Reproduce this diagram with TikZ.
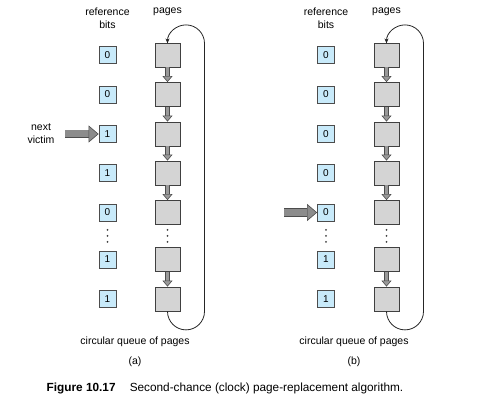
\documentclass[tikz,border=0pt]{standalone}
\usepackage{fontspec}
\setmainfont{Liberation Sans}
\usetikzlibrary{arrows.meta}
\definecolor{azulbit}{RGB}{200,234,250}
\definecolor{cinzapag}{RGB}{212,212,212}
\begin{document}
\begin{tikzpicture}[x=1pt,y=1pt,
    bit/.style={draw=black!70,fill=azulbit,line width=0.8pt,minimum size=17pt,inner sep=0pt,font=\fontsize{10}{12}\selectfont},
    pagina/.style={draw=black!75,fill=cinzapag,line width=0.8pt,minimum width=25pt,minimum height=24pt,inner sep=0pt},
    seta/.style={draw=black!70,line width=0.6pt,double=black!40,double distance=3pt,
        -{Triangle[length=6pt,width=10pt,fill=black!40,line width=0.6pt]}},
    ponteiro/.style={draw=black!70,line width=0.6pt,double=black!45,double distance=7pt,
        -{Triangle[length=10pt,width=17pt,fill=black!45,line width=0.6pt]}},
    volta/.style={draw=black!85,line width=0.8pt,-{Stealth[length=5pt,width=4pt]}},
    rotulo/.style={align=center,font=\fontsize{10.5}{13}\selectfont},
    ponto/.style={fill=black!75}
]
\useasboundingbox (0,0) rectangle (482,414);

% (a)
\node[rotulo] (refA) at (107.5,396) {reference\\bits};
\node[rotulo] (pagA) at (167.5,402) {pages};
\node[rotulo] (vitimaA) at (41,280) {next\\victim};

\node[bit] (ba1) at (107.5,359) {0};
\node[bit] (ba2) at (107.5,319.5) {0};
\node[bit] (ba3) at (107.5,280) {1};
\node[bit] (ba4) at (107.5,241) {1};
\node[bit] (ba5) at (107.5,201.5) {0};
\node[bit] (ba6) at (107.5,154.5) {1};
\node[bit] (ba7) at (107.5,115) {1};

\node[pagina] (pa1) at (167.5,359) {};
\node[pagina] (pa2) at (167.5,319.5) {};
\node[pagina] (pa3) at (167.5,280) {};
\node[pagina] (pa4) at (167.5,241) {};
\node[pagina] (pa5) at (167.5,201.5) {};
\node[pagina] (pa6) at (167.5,154.5) {};
\node[pagina] (pa7) at (167.5,115) {};

\fill[ponto] (107.5,184) circle (1pt) (107.5,178) circle (1pt) (107.5,172) circle (1pt);
\fill[ponto] (167.5,184) circle (1pt) (167.5,178) circle (1pt) (167.5,172) circle (1pt);

\draw[seta] (pa1) -- (pa2);
\draw[seta] (pa2) -- (pa3);
\draw[seta] (pa3) -- (pa4);
\draw[seta] (pa4) -- (pa5);
\draw[seta] (pa6) -- (pa7);
\draw[volta] (pa7.south) arc[start angle=180,end angle=360,radius=18.5]
    -- ++(0,268) arc[start angle=0,end angle=180,radius=18.5];

\coordinate (inicioA) at (65,280);
\draw[ponteiro] (inicioA) -- (ba3.west);

\node[rotulo] (filaA) at (135,72) {circular queue of pages};
\node[rotulo] (letraA) at (135,52) {(a)};

% (b)
\node[rotulo] (refB) at (326,396) {reference\\bits};
\node[rotulo] (pagB) at (386.5,402) {pages};

\node[bit] (bb1) at (326,359) {0};
\node[bit] (bb2) at (326,319.5) {0};
\node[bit] (bb3) at (326,280) {0};
\node[bit] (bb4) at (326,241) {0};
\node[bit] (bb5) at (326,201.5) {0};
\node[bit] (bb6) at (326,154.5) {1};
\node[bit] (bb7) at (326,115) {1};

\node[pagina] (pb1) at (386.5,359) {};
\node[pagina] (pb2) at (386.5,319.5) {};
\node[pagina] (pb3) at (386.5,280) {};
\node[pagina] (pb4) at (386.5,241) {};
\node[pagina] (pb5) at (386.5,201.5) {};
\node[pagina] (pb6) at (386.5,154.5) {};
\node[pagina] (pb7) at (386.5,115) {};

\fill[ponto] (326,184) circle (1pt) (326,178) circle (1pt) (326,172) circle (1pt);
\fill[ponto] (386.5,184) circle (1pt) (386.5,178) circle (1pt) (386.5,172) circle (1pt);

\draw[seta] (pb1) -- (pb2);
\draw[seta] (pb2) -- (pb3);
\draw[seta] (pb3) -- (pb4);
\draw[seta] (pb4) -- (pb5);
\draw[seta] (pb6) -- (pb7);
\draw[volta] (pb7.south) arc[start angle=180,end angle=360,radius=18.5]
    -- ++(0,268) arc[start angle=0,end angle=180,radius=18.5];

\coordinate (inicioB) at (284,201.5);
\draw[ponteiro] (inicioB) -- (bb5.west);

\node[rotulo] (filaB) at (354,72) {circular queue of pages};
\node[rotulo] (letraB) at (354,52) {(b)};

\node[font=\fontsize{11.8}{14}\selectfont] (legenda) at (225,26)
    {\textbf{Figure 10.17}\hspace{1.2em}Second-chance (clock) page-replacement algorithm.};
\end{tikzpicture}
\end{document}
